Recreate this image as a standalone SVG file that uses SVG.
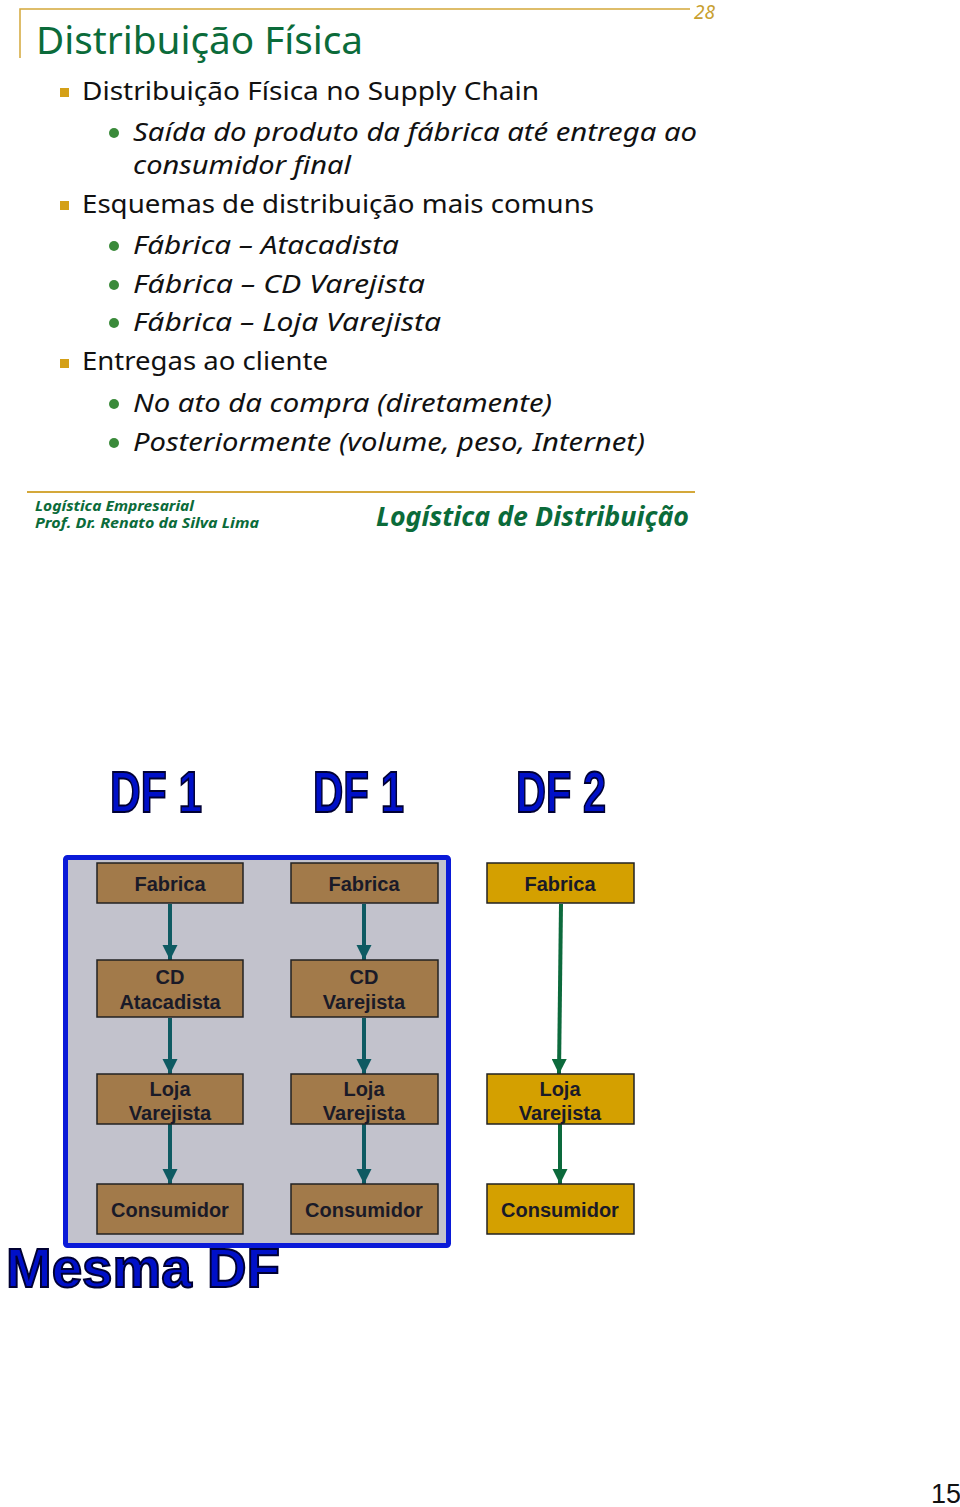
<svg xmlns="http://www.w3.org/2000/svg" width="960" height="1507" viewBox="0 0 960 1507">
<style>
.t{font-family:"Noto Sans","Open Sans",sans-serif;fill:#111}
.b1{font-size:26px}
.b2{font-size:25px;font-style:italic}
.sq{fill:#d4a017}
.dot{fill:#3a8a3a}
.gr{fill:#0b6b3a;font-family:"Noto Sans","Open Sans",sans-serif}
.df{font-family:"Liberation Sans",Arial,sans-serif;font-weight:bold;fill:#0010c8;stroke:#000033;stroke-width:2}
.nb{stroke:#222;stroke-width:1.5}
.brown{fill:#a27a4a}
.gold{fill:#d4a000}
.nt{font-family:"Liberation Sans",Arial,sans-serif;font-weight:bold;font-size:20px;fill:#1a1a28;text-anchor:middle}
.a1{stroke:#0e5a62;stroke-width:4;fill:none}
.a2{stroke:#0c6a3c;stroke-width:4;fill:none}
</style>
<defs>
<marker id="h1" viewBox="0 0 10 10" refX="10" refY="5" markerWidth="3.8" markerHeight="3.8" markerUnits="strokeWidth" orient="auto"><path d="M0,0L10,5L0,10z" fill="#0e5a62"/></marker>
<marker id="h2" viewBox="0 0 10 10" refX="10" refY="5" markerWidth="3.8" markerHeight="3.8" markerUnits="strokeWidth" orient="auto"><path d="M0,0L10,5L0,10z" fill="#0c6a3c"/></marker>
</defs>
<rect width="960" height="1507" fill="#fff"/>

<g id="header">
<path d="M20,58V9H690" fill="none" stroke="#d4a83a" stroke-width="1.5"/>
<text x="694" y="19" font-family="Noto Sans,sans-serif" font-style="italic" font-size="19" fill="#c8a030">28</text>
<text x="36" y="54" class="gr" font-size="38" textLength="327" lengthAdjust="spacingAndGlyphs">Distribuição Física</text>
</g>

<g id="bullets">
<rect class="sq" x="60" y="88" width="9" height="9"/>
<text class="t b1" x="82" y="100" textLength="457" lengthAdjust="spacingAndGlyphs">Distribuição Física no Supply Chain</text>
<circle class="dot" cx="114" cy="133" r="5"/>
<text class="t b2" x="133" y="141" textLength="564" lengthAdjust="spacingAndGlyphs">Saída do produto da fábrica até entrega ao</text>
<text class="t b2" x="133" y="174" textLength="218" lengthAdjust="spacingAndGlyphs">consumidor final</text>
<rect class="sq" x="60" y="201" width="9" height="9"/>
<text class="t b1" x="82" y="213" textLength="512" lengthAdjust="spacingAndGlyphs">Esquemas de distribuição mais comuns</text>
<circle class="dot" cx="114" cy="246" r="5"/>
<text class="t b2" x="133" y="254" textLength="266" lengthAdjust="spacingAndGlyphs">Fábrica – Atacadista</text>
<circle class="dot" cx="114" cy="285" r="5"/>
<text class="t b2" x="133" y="293" textLength="292" lengthAdjust="spacingAndGlyphs">Fábrica – CD Varejista</text>
<circle class="dot" cx="114" cy="323" r="5"/>
<text class="t b2" x="133" y="331" textLength="308" lengthAdjust="spacingAndGlyphs">Fábrica – Loja Varejista</text>
<rect class="sq" x="60" y="359" width="9" height="9"/>
<text class="t b1" x="82" y="370" textLength="246" lengthAdjust="spacingAndGlyphs">Entregas ao cliente</text>
<circle class="dot" cx="114" cy="404" r="5"/>
<text class="t b2" x="133" y="412" textLength="419" lengthAdjust="spacingAndGlyphs">No ato da compra (diretamente)</text>
<circle class="dot" cx="114" cy="443" r="5"/>
<text class="t b2" x="133" y="451" textLength="512" lengthAdjust="spacingAndGlyphs">Posteriormente (volume, peso, Internet)</text>
</g>

<g id="footer">
<line x1="27" y1="492" x2="695" y2="492" stroke="#d4a83a" stroke-width="2"/>
<text class="gr" x="35" y="511" font-size="15" font-style="italic" font-weight="bold" textLength="159" lengthAdjust="spacingAndGlyphs">Logística Empresarial</text>
<text class="gr" x="35" y="528" font-size="15" font-style="italic" font-weight="bold" textLength="224" lengthAdjust="spacingAndGlyphs">Prof. Dr. Renato da Silva Lima</text>
<text class="gr" x="376" y="526" font-size="26" font-style="italic" font-weight="bold" textLength="313" lengthAdjust="spacingAndGlyphs">Logística de Distribuição</text>
</g>

<g id="titles">
<text class="df" x="110" y="812" font-size="58" textLength="92" lengthAdjust="spacingAndGlyphs">DF 1</text>
<text class="df" x="313" y="812" font-size="58" textLength="91" lengthAdjust="spacingAndGlyphs">DF 1</text>
<text class="df" x="516" y="812" font-size="58" textLength="90" lengthAdjust="spacingAndGlyphs">DF 2</text>
</g>

<g id="group-box">
<rect x="65.5" y="857.5" width="383" height="388" rx="2" fill="#c2c2cc" stroke="#0a1ad8" stroke-width="5"/>
</g>

<g id="connectors">
<line class="a1" x1="170" y1="904" x2="170" y2="960" marker-end="url(#h1)"/>
<line class="a1" x1="170" y1="1018" x2="170" y2="1074" marker-end="url(#h1)"/>
<line class="a1" x1="170" y1="1124" x2="170" y2="1184" marker-end="url(#h1)"/>
<line class="a1" x1="364" y1="904" x2="364" y2="960" marker-end="url(#h1)"/>
<line class="a1" x1="364" y1="1018" x2="364" y2="1074" marker-end="url(#h1)"/>
<line class="a1" x1="364" y1="1124" x2="364" y2="1184" marker-end="url(#h1)"/>
<line class="a2" x1="561" y1="904" x2="559" y2="1074" marker-end="url(#h2)"/>
<line class="a2" x1="560" y1="1124" x2="560" y2="1184" marker-end="url(#h2)"/>
</g>

<g id="n-fab1"><rect class="nb brown" x="97" y="863" width="146" height="40"/><text class="nt" x="170" y="891">Fabrica</text></g>
<g id="n-cd1"><rect class="nb brown" x="97" y="960" width="146" height="57"/><text class="nt" x="170" y="984">CD</text><text class="nt" x="170" y="1009">Atacadista</text></g>
<g id="n-loja1"><rect class="nb brown" x="97" y="1074" width="146" height="50"/><text class="nt" x="170" y="1096">Loja</text><text class="nt" x="170" y="1120">Varejista</text></g>
<g id="n-cons1"><rect class="nb brown" x="97" y="1184" width="146" height="50"/><text class="nt" x="170" y="1217">Consumidor</text></g>

<g id="n-fab2"><rect class="nb brown" x="291" y="863" width="147" height="40"/><text class="nt" x="364" y="891">Fabrica</text></g>
<g id="n-cd2"><rect class="nb brown" x="291" y="960" width="147" height="57"/><text class="nt" x="364" y="984">CD</text><text class="nt" x="364" y="1009">Varejista</text></g>
<g id="n-loja2"><rect class="nb brown" x="291" y="1074" width="147" height="50"/><text class="nt" x="364" y="1096">Loja</text><text class="nt" x="364" y="1120">Varejista</text></g>
<g id="n-cons2"><rect class="nb brown" x="291" y="1184" width="147" height="50"/><text class="nt" x="364" y="1217">Consumidor</text></g>

<g id="n-fab3"><rect class="nb gold" x="487" y="863" width="147" height="40"/><text class="nt" x="560" y="891">Fabrica</text></g>
<g id="n-loja3"><rect class="nb gold" x="487" y="1074" width="147" height="50"/><text class="nt" x="560" y="1096">Loja</text><text class="nt" x="560" y="1120">Varejista</text></g>
<g id="n-cons3"><rect class="nb gold" x="487" y="1184" width="147" height="50"/><text class="nt" x="560" y="1217">Consumidor</text></g>

<g id="label-mesma">
<text class="df" x="6" y="1287" font-size="56" textLength="274" lengthAdjust="spacingAndGlyphs">Mesma DF</text>
</g>

<text x="931" y="1503" font-family="Liberation Sans,Arial,sans-serif" font-size="27" fill="#111">15</text>
</svg>
